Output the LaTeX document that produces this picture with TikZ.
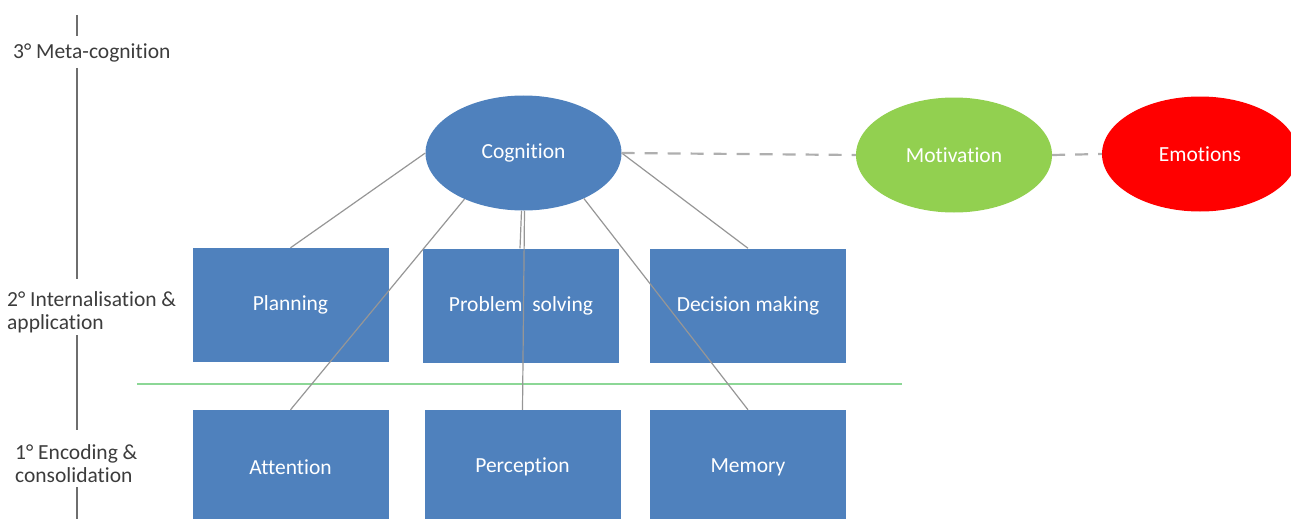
\documentclass[tikz,border=0pt]{standalone}
\usepackage{fontspec}
\setmainfont{Carlito}[Ligatures=NoCommon]
\usetikzlibrary{shapes.geometric}
\definecolor{boxblue}{RGB}{79,129,189}
\definecolor{motgreen}{RGB}{146,208,80}
\definecolor{emored}{RGB}{255,0,0}
\definecolor{linkgray}{RGB}{150,150,150}
\definecolor{dashgray}{RGB}{175,175,175}
\definecolor{axisgray}{RGB}{110,110,110}
\definecolor{splitgreen}{RGB}{140,215,150}
\definecolor{labelgray}{RGB}{60,60,60}

\begin{document}
\begin{tikzpicture}[x=1pt,y=-1pt,
  every node/.style={font=\fontsize{21.5}{23}\selectfont},
  stage/.style={rectangle, fill=boxblue, minimum width=196pt, minimum height=114pt, text=white, inner sep=0pt},
  bubble/.style={ellipse, minimum width=196pt, minimum height=115pt, text=white, inner sep=0pt},
  link/.style={draw=linkgray, line width=1.2pt},
  tie/.style={draw=dashgray, line width=2.2pt, dash pattern=on 13pt off 10pt},
  level/.style={align=left, anchor=west, text=labelgray, inner sep=0pt},
  axis/.style={draw=axisgray, line width=1.8pt},
  divider/.style={draw=splitgreen, line width=2pt}]

  \clip (0,0) rectangle (1291,519);

  % level axis on the left
  \draw[axis] (77,15) -- (77,36);
  \draw[axis] (77,68) -- (77,279);
  \draw[axis] (77,335) -- (77,430);
  \draw[axis] (77,487) -- (77,519);

  \node[level] (l3) at (13,53) {3° Meta-cognition};
  \node[level] (l2) at (7,312) {2° Internalisation \&\\application};
  \node[level] (l1) at (15,464) {1° Encoding \&\\consolidation};

  % ellipses
  \node[bubble, fill=boxblue] (cog) at (523.5,153) {Cognition};
  \node[bubble, fill=motgreen] (mot) at (954,155) {Motivation};
  \node[bubble, fill=emored] (emo) at (1200,154) {Emotions};

  % second level
  \node[stage] (plan) at (290.5,305) {Planning};
  \node[stage] (prob) at (521,305.5) {Problem\hspace{0.45em}solving};
  \node[stage] (dec) at (748,305.5) {Decision making};

  % first level
  \node[stage] (att) at (290.5,467) {Attention};
  \node[stage] (perc) at (522.5,467) {Perception};
  \node[stage] (mem) at (748,467) {Memory};

  % divider between levels
  \coordinate (sepL) at (137,384);
  \coordinate (sepR) at (902,384);
  \draw[divider] (sepL) -- (sepR);

  % links from cognition
  \draw[link] (cog.west) -- (plan.north);
  \draw[link] (cog.218) -- (att.north);
  \draw[link] ([xshift=-2pt]cog.south) -- ([xshift=-1pt]prob.north);
  \draw[link] ([xshift=1pt]cog.south) -- (perc.north);
  \draw[link] (cog.-37) -- (mem.north);
  \draw[link] (cog.east) -- (dec.north);

  % dashed ties
  \draw[tie] (cog.east) -- (mot.west);
  \draw[tie] (mot.east) -- (emo.west);
\end{tikzpicture}
\end{document}
